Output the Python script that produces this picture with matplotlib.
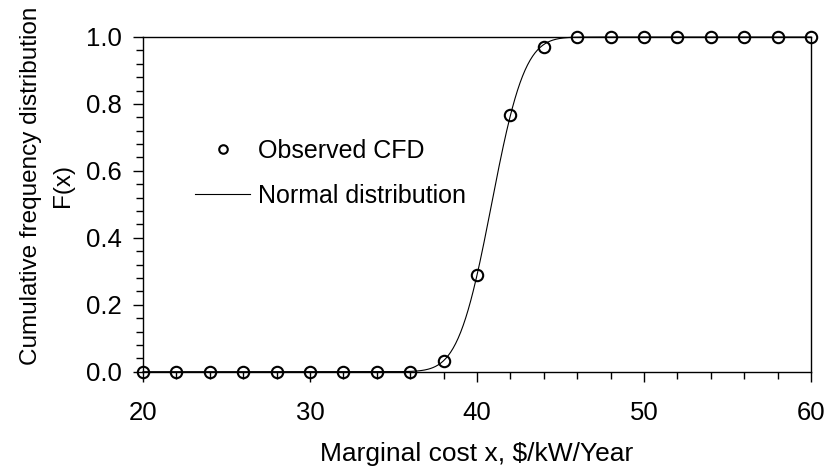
import math
import numpy as np
import matplotlib
matplotlib.use('Agg')
import matplotlib.pyplot as plt
from matplotlib.ticker import MultipleLocator

# observed cumulative frequency distribution
cost = [20, 22, 24, 26, 28, 30, 32, 34, 36, 38, 40, 42, 44, 46, 48, 50, 52, 54, 56, 58, 60]
cfd = [0, 0, 0, 0, 0, 0, 0, 0, 0, 0.032, 0.289, 0.766, 0.971, 1.0, 1.0, 1.0, 1.0, 1.0, 1.0, 1.0, 1.0]

# fitted normal distribution parameters
mu = 40.87
sigma = 1.56

plt.rcParams['font.family'] = ['Liberation Sans', 'DejaVu Sans']
plt.rcParams['font.size'] = 18

fig = plt.figure(figsize=(8.29, 4.72), dpi=100)
ax = fig.add_axes([143 / 829, 1 - 371.7 / 472, (811 - 143) / 829, (371.7 - 37) / 472])

xs = np.linspace(cost[0], cost[-1], 800)
ys = [0.5 * (1 + math.erf((x - mu) / (sigma * math.sqrt(2)))) for x in xs]

ax.plot(xs, ys, '-', color='black', linewidth=0.8, label='Normal distribution', clip_on=False, zorder=2)
ax.plot(cost, cfd, 'o', markersize=8.2, markerfacecolor='none', markeredgecolor='black',
        markeredgewidth=1.5, label='Observed CFD', clip_on=False, zorder=3)

ax.set(xlim=[20, 60], ylim=[0, 1])
ax.xaxis.set_major_locator(MultipleLocator(10))
ax.xaxis.set_minor_locator(MultipleLocator(2))
ax.yaxis.set_major_locator(MultipleLocator(0.2))
ax.yaxis.set_minor_locator(MultipleLocator(0.04))
ax.yaxis.set_major_formatter(plt.FuncFormatter(lambda v, p: '%.1f' % v))
ax.tick_params(which='both', direction='out', width=1, color='black', labelsize=18.5)
ax.tick_params(which='major', length=7)
ax.tick_params(which='minor', length=5)
ax.tick_params(axis='x', which='major', pad=14)
ax.tick_params(axis='y', which='major', pad=8)
for s in ax.spines.values():
    s.set_linewidth(1.0)

ax.set_xlabel('Marginal cost x, $/kW/Year', labelpad=12, fontsize=19)
ax.set_ylabel('Cumulative frequency distribution\nF(x)', linespacing=1.55, fontsize=17.5)
ax.yaxis.set_label_coords(-0.104, 0.555)

handles, labels = ax.get_legend_handles_labels()
ax.legend(handles[::-1], labels[::-1], loc='center left', bbox_to_anchor=(0.078, 0.592),
          frameon=False, handlelength=2.2, handletextpad=0.3, labelspacing=0.85,
          borderaxespad=0, borderpad=0, markerscale=0.75, fontsize=18)

fig.savefig('out.png', dpi=100)
